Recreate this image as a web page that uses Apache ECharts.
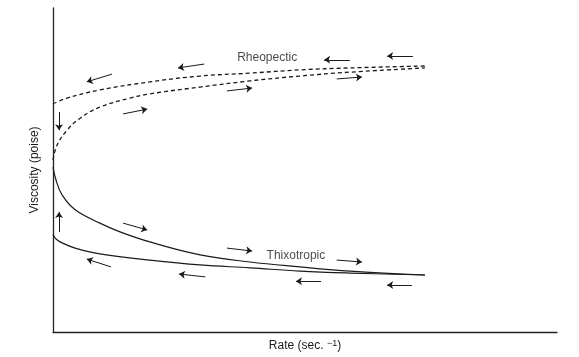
<!DOCTYPE html>
<html>
<head>
<meta charset="utf-8">
<script src="https://cdn.jsdelivr.net/npm/echarts@6/dist/echarts.min.js"></script>
<style>html,body{margin:0;padding:0;background:#fff;}#c{width:579px;height:357px;}</style>
</head>
<body>
<div id="c"></div>
<script>
// Rheopectic (dashed) curves
const rheoUpX = [0, 2.8, 9.3, 19.2, 29.2, 39.1, 49.0, 58.9, 73.8];
const rheoUpY = [70.4, 72.2, 74.7, 77.2, 79.0, 79.9, 80.9, 81.5, 82.1];
const rheoLowX = [0, 0.8, 2.8, 5.4, 9.3, 15.3, 19.2, 29.2, 39.1, 49.0, 58.9, 73.8];
const rheoLowY = [53.1, 57.7, 62.3, 66.0, 69.4, 72.2, 73.5, 75.6, 77.5, 79.0, 80.2, 81.5];
// Thixotropic (solid) curves
const thixUpX = [0, 0.6, 1.8, 4.4, 9.3, 13.3, 19.2, 29.2, 39.1, 49.0, 58.9, 73.8];
const thixUpY = [50.9, 46.9, 42.3, 37.7, 33.6, 30.9, 27.8, 23.8, 21.6, 20.1, 18.8, 17.6];
const thixLowX = [0, 0.6, 1.8, 4.4, 9.3, 19.2, 29.2, 39.1, 49.0, 58.9, 73.8];
const thixLowY = [30.2, 28.7, 27.5, 25.9, 24.1, 22.2, 20.7, 19.8, 18.8, 18.2, 17.6];
// Direction arrows: [x0, y0, x1, y1]
const arrows = [
  [11.7, 79.6, 6.7, 77.2],
  [30.0, 82.7, 24.8, 81.5],
  [58.9, 84.0, 53.8, 84.0],
  [71.4, 85.2, 66.3, 85.2],
  [13.9, 67.3, 18.7, 68.8],
  [34.5, 74.4, 39.5, 75.3],
  [56.3, 78.1, 61.3, 78.7],
  [1.2, 67.9, 1.2, 62.3],
  [1.2, 30.9, 1.2, 37.0],
  [13.9, 33.6, 18.7, 31.5],
  [34.5, 25.9, 39.5, 25.0],
  [56.3, 22.2, 61.3, 21.6],
  [11.5, 20.1, 6.7, 22.5],
  [30.2, 17.0, 25.0, 17.9],
  [53.2, 15.7, 48.2, 15.7],
  [71.2, 14.5, 66.3, 14.5]
];
// Curve labels
const labelNames = ['Rheopectic', 'Thixotropic'];
const labelX = [42.5, 48.2];
const labelY = [84.6, 23.5];

const zip = (xs, ys) => xs.map((x, i) => [x, ys[i]]);
const ink = '#1a1a1a';
const font = '"Liberation Sans", Arial, sans-serif';

const chart = echarts.init(document.getElementById('c'));
chart.setOption({
  animation: false,
  backgroundColor: '#fff',
  grid: { left: 53, top: 8, right: 22, bottom: 25 },
  xAxis: {
    type: 'value', min: 0, max: 100,
    name: 'Rate (sec. {sup|−1})',
    nameLocation: 'middle', nameGap: 7,
    nameTextStyle: {
      color: ink, fontSize: 12, fontFamily: font, verticalAlign: 'top',
      rich: { sup: { fontSize: 9, verticalAlign: 'top', color: ink, fontFamily: font, padding: [0, 0, 5, 0] } }
    },
    axisLine: { show: true, lineStyle: { color: '#222', width: 1.3 } },
    axisTick: { show: false }, axisLabel: { show: false }, splitLine: { show: false }
  },
  yAxis: {
    type: 'value', min: 0, max: 100,
    name: 'Viscosity (poise)',
    nameLocation: 'middle', nameGap: 12,
    nameTextStyle: { color: ink, fontSize: 12, fontFamily: font },
    axisLine: { show: true, lineStyle: { color: '#222', width: 1.3 } },
    axisTick: { show: false }, axisLabel: { show: false }, splitLine: { show: false }
  },
  series: [
    { type: 'line', data: zip(rheoUpX, rheoUpY), smooth: 0.4, symbol: 'none',
      lineStyle: { color: ink, width: 1.3, type: [4, 3] } },
    { type: 'line', data: zip(rheoLowX, rheoLowY), smooth: 0.4, symbol: 'none',
      lineStyle: { color: ink, width: 1.3, type: [4, 3] } },
    { type: 'line', data: zip(thixUpX, thixUpY), smooth: 0.4, symbol: 'none',
      lineStyle: { color: ink, width: 1.2 } },
    { type: 'line', data: zip(thixLowX, thixLowY), smooth: 0.4, symbol: 'none',
      lineStyle: { color: ink, width: 1.2 } },
    { type: 'lines', coordinateSystem: 'cartesian2d', silent: true,
      symbol: ['none', 'arrow'], symbolSize: [0, 6],
      lineStyle: { color: ink, width: 1, opacity: 1 },
      data: arrows.map(a => ({ coords: [[a[0], a[1]], [a[2], a[3]]] })) },
    { type: 'scatter', symbolSize: 0, silent: true,
      label: { show: true, position: 'inside', formatter: p => p.name,
        color: ink, fontSize: 12, fontFamily: font },
      data: labelNames.map((n, i) => ({ name: n, value: [labelX[i], labelY[i]] })) }
  ]
});
</script>
</body>
</html>
